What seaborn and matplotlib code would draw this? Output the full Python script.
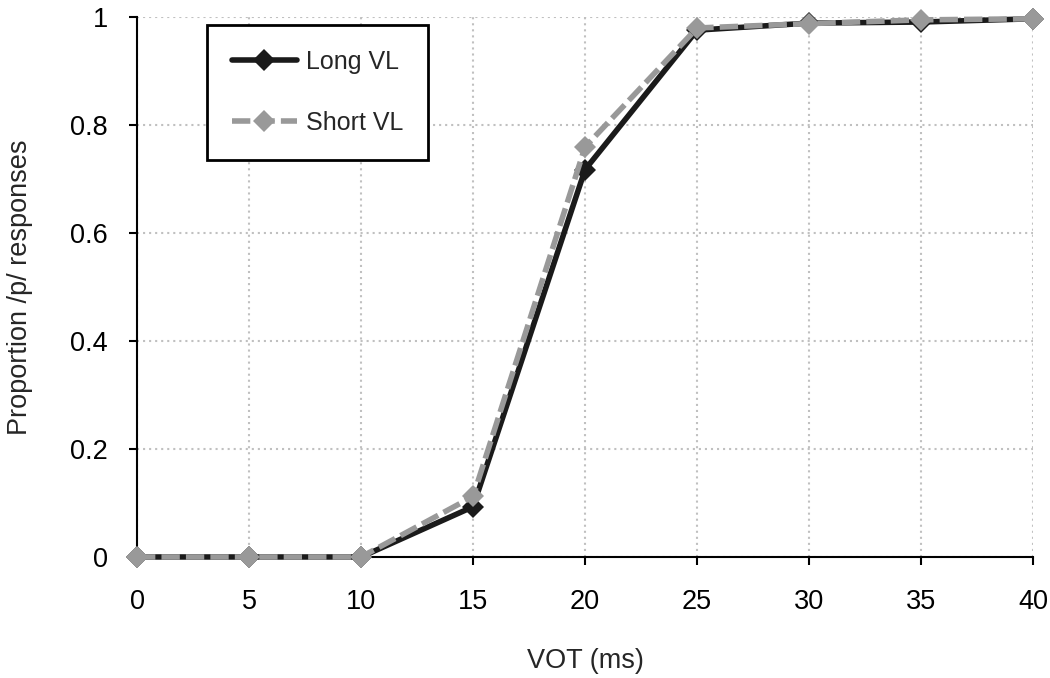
import matplotlib
matplotlib.use("Agg")
import matplotlib.pyplot as plt
import seaborn as sns
import pandas as pd

vot = [0, 5, 10, 15, 20, 25, 30, 35, 40]
long_vl = [0.0, 0.0, 0.0, 0.093, 0.717, 0.975, 0.988, 0.990, 0.996]
short_vl = [0.0, 0.0, 0.0, 0.112, 0.759, 0.979, 0.987, 0.994, 0.996]

sns.set_theme(style="white")
plt.rcParams['font.family'] = ['Liberation Sans', 'DejaVu Sans']

df = pd.DataFrame({
    'VOT': vot * 2,
    'prop': long_vl + short_vl,
    'cond': ['Long VL'] * len(vot) + ['Short VL'] * len(vot),
})

fig = plt.figure(figsize=(10.5, 6.78), dpi=100)
ax = fig.add_axes([0.1305, 0.1785, 0.8535, 0.797])

sns.lineplot(data=df[df.cond == 'Long VL'], x='VOT', y='prop', ax=ax,
             color='#1a1a1a', lw=4, marker='D', markersize=11,
             markeredgewidth=0, label='Long VL', clip_on=False, zorder=3)
sns.lineplot(data=df[df.cond == 'Short VL'], x='VOT', y='prop', ax=ax,
             color='#999999', lw=4, linestyle=(0, (3.3, 1.1)), marker='D', markersize=11,
             markeredgewidth=0, label='Short VL', clip_on=False, zorder=4)

ax.set_xlim(0, 40)
ax.set_ylim(0, 1)
ax.set_xticks(vot)
ax.set_yticks([0, 0.2, 0.4, 0.6, 0.8, 1])
ax.set_yticklabels(['0', '0.2', '0.4', '0.6', '0.8', '1'])
ax.grid(True, color='#c0c0c0', linestyle=(0, (1, 1.9)), lw=1.5)
for s in ['top', 'right']:
    ax.spines[s].set_visible(False)
for s in ['left', 'bottom']:
    ax.spines[s].set_color('black')
    ax.spines[s].set_linewidth(1.5)
ax.tick_params(axis='both', labelsize=19.5, colors='black', direction='out',
               length=6, width=1.5, left=True, bottom=True)
ax.tick_params(axis='x', pad=17)
ax.tick_params(axis='y', pad=15)
ax.set_xlabel('VOT (ms)', fontsize=19.5, labelpad=24)
ax.set_ylabel('Proportion /p/ responses', fontsize=19.5, labelpad=27)

leg = ax.legend(loc='upper left', bbox_to_anchor=(0.078, 0.985), fontsize=18,
                frameon=True, fancybox=False, handlelength=2.6, borderpad=1.0,
                labelspacing=1.5, handletextpad=0.36, borderaxespad=0)
leg.get_frame().set_edgecolor('black')
leg.get_frame().set_linewidth(2)
leg.get_frame().set_alpha(1)

fig.savefig('out.png', dpi=100)
